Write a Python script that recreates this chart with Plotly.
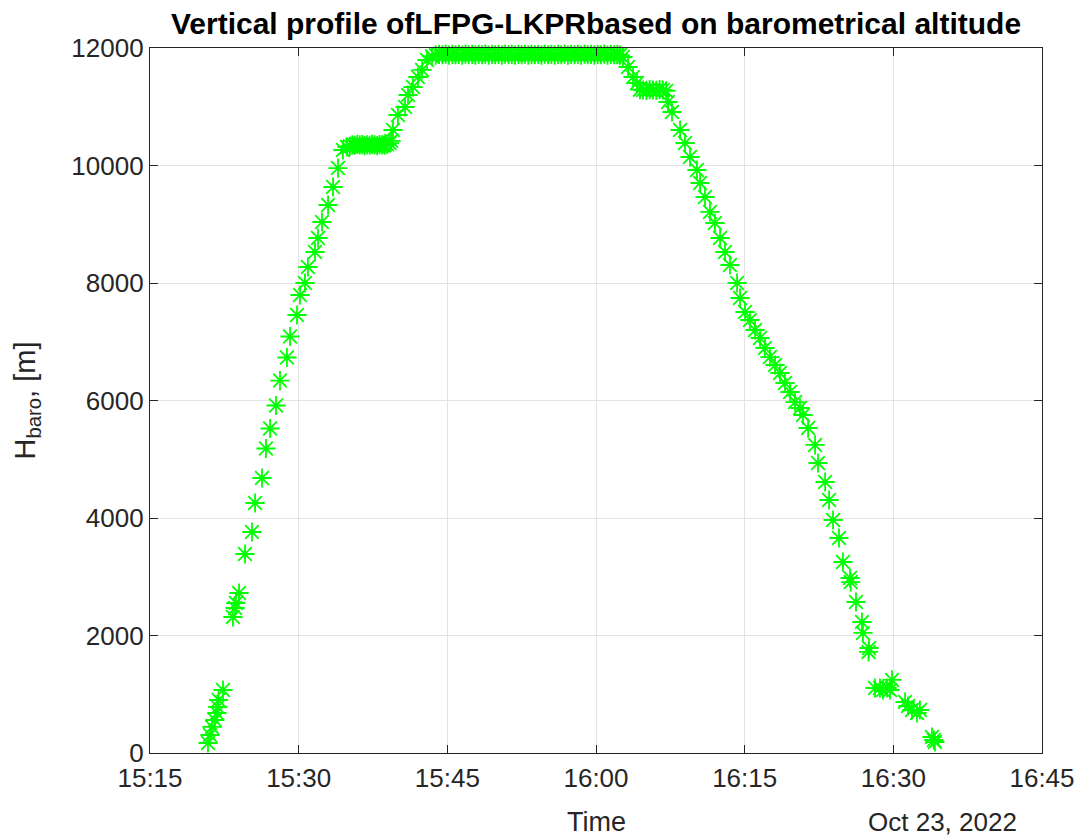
import plotly.graph_objects as go

DATE = "2022-10-23 "

# --- data (time of day, barometric altitude in m) ---
climb_times = ["15:20:51", "15:21:03", "15:21:15", "15:21:33", "15:21:45", "15:21:50", "15:21:55",
               "15:22:22", "15:23:22", "15:23:35", "15:23:40", "15:23:59", "15:24:35", "15:25:17",
               "15:25:36", "15:26:18", "15:26:42", "15:27:07", "15:27:43", "15:28:07", "15:28:49",
               "15:29:08", "15:29:50", "15:30:08", "15:30:38", "15:30:56", "15:31:39", "15:31:57",
               "15:32:21", "15:32:58", "15:33:28", "15:33:58", "15:34:28", "15:34:53"]
climb_alt = [170, 306, 443, 562, 681, 783, 902,
             1072, 2315, 2468, 2553, 2723, 3387, 3762,
             4255, 4681, 5183, 5523, 5915, 6340, 6732,
             7089, 7455, 7796, 8000, 8272, 8528, 8766,
             9038, 9328, 9634, 9957, 10264, 10315]

level1_times = ["15:35:10", "15:35:25", "15:35:40", "15:35:55", "15:36:10", "15:36:25", "15:36:40",
                "15:36:55", "15:37:10", "15:37:25", "15:37:40", "15:37:55", "15:38:10", "15:38:25",
                "15:38:40", "15:38:55", "15:39:10", "15:39:20"]
level1_alt = [10330, 10350, 10345, 10360, 10350, 10355, 10340,
              10350, 10345, 10360, 10350, 10340, 10355, 10350,
              10345, 10360, 10380, 10420]

climb2_times = ["15:39:31", "15:40:01", "15:40:44", "15:41:02", "15:41:32", "15:42:02", "15:42:27",
                "15:42:57", "15:43:27"]
climb2_alt = [10604, 10860, 10996, 11200, 11336, 11506, 11626, 11796, 11860]

cruise_times = ["15:43:50", "15:44:10", "15:44:30", "15:44:50", "15:45:10", "15:45:30", "15:45:50",
                "15:46:10", "15:46:30", "15:46:50", "15:47:10", "15:47:30", "15:47:50", "15:48:10",
                "15:48:30", "15:48:50", "15:49:10", "15:49:30", "15:49:50", "15:50:10", "15:50:30",
                "15:50:50", "15:51:10", "15:51:30", "15:51:50", "15:52:10", "15:52:30", "15:52:50",
                "15:53:10", "15:53:30", "15:53:50", "15:54:10", "15:54:30", "15:54:50", "15:55:10",
                "15:55:30", "15:55:50", "15:56:10", "15:56:30", "15:56:50", "15:57:10", "15:57:30",
                "15:57:50", "15:58:10", "15:58:30", "15:58:50", "15:59:10", "15:59:30", "15:59:50",
                "16:00:10", "16:00:30", "16:00:50", "16:01:10", "16:01:30", "16:01:50", "16:02:10",
                "16:02:25"]
cruise_alt = [11880, 11890, 11885, 11895, 11880, 11890, 11885,
              11890, 11880, 11895, 11885, 11890, 11880, 11890,
              11885, 11895, 11880, 11890, 11885, 11890, 11880,
              11895, 11885, 11890, 11880, 11890, 11885, 11895,
              11880, 11890, 11885, 11890, 11880, 11895, 11885,
              11890, 11880, 11890, 11885, 11895, 11880, 11890,
              11885, 11890, 11880, 11895, 11885, 11890, 11880,
              11890, 11885, 11895, 11880, 11890, 11885, 11890,
              11880]

descent1_times = ["16:02:43", "16:03:14", "16:03:44", "16:04:08"]
descent1_alt = [11847, 11677, 11506, 11404]

level2_times = ["16:04:26", "16:04:45", "16:05:05", "16:05:25", "16:05:45", "16:06:05", "16:06:25",
                "16:06:45", "16:07:05"]
level2_alt = [11290, 11285, 11280, 11290, 11285, 11280, 11290, 11285, 11270]

descent_times = ["16:07:16", "16:07:40", "16:08:29", "16:08:59", "16:09:29", "16:10:11", "16:10:30",
                 "16:11:00", "16:11:30", "16:12:00", "16:12:31", "16:13:01", "16:13:31", "16:14:14",
                 "16:14:32", "16:15:02", "16:15:32", "16:16:03", "16:16:33", "16:17:03", "16:17:33",
                 "16:18:04", "16:18:34", "16:19:04", "16:19:35", "16:20:05", "16:20:35", "16:20:53",
                 "16:21:24", "16:22:06", "16:22:24", "16:23:07", "16:23:31", "16:23:55", "16:24:31",
                 "16:24:55", "16:25:38", "16:25:42", "16:26:14", "16:26:50", "16:26:56", "16:27:33",
                 "16:27:30", "16:28:09", "16:28:39", "16:28:57", "16:29:22", "16:29:40", "16:29:52",
                 "16:31:11", "16:31:29", "16:31:53", "16:32:23", "16:32:41", "16:33:54", "16:34:05",
                 "16:34:12"]
descent_alt = [11081, 10911, 10604, 10383, 10145, 9923, 9702,
               9464, 9209, 9021, 8766, 8528, 8306, 8000,
               7745, 7506, 7370, 7200, 7064, 6894, 6740,
               6604, 6468, 6298, 6145, 5974, 5872, 5753,
               5532, 5243, 4936, 4613, 4306, 3966, 3660,
               3251, 2979, 2910, 2570, 2230, 2043, 1787,
               1720, 1106, 1106, 1072, 1106, 1072, 1243,
               868, 800, 732, 681, 732, 272, 221,
               187]

x_ticks = ["15:15", "15:30", "15:45", "16:00", "16:15", "16:30", "16:45"]
y_ticks = [0, 2000, 4000, 6000, 8000, 10000, 12000]

all_times = (climb_times + level1_times + climb2_times + cruise_times +
             descent1_times + level2_times + descent_times)
all_alt = (climb_alt + level1_alt + climb2_alt + cruise_alt +
           descent1_alt + level2_alt + descent_alt)

FONT = "Liberation Sans, Arial, sans-serif"
AX = "#262626"
L, R, T, B = 150, 40, 48, 83
W, H = 1082, 836
plot_w = W - L - R

fig = go.Figure()
fig.add_trace(go.Scatter(
    x=[DATE + t for t in all_times], y=all_alt, mode="markers",
    marker=dict(symbol="asterisk-open", size=16, color="#00ff00",
                line=dict(color="#00ff00", width=1.8)),
    cliponaxis=False, showlegend=False, hoverinfo="x+y"))

axis_common = dict(showgrid=True, gridcolor="#e3e3e3", gridwidth=1,
                   showline=True, linecolor=AX, linewidth=1.3, mirror="allticks",
                   ticks="inside", ticklen=8, tickcolor=AX, tickwidth=1.3,
                   zeroline=False, automargin=False,
                   tickfont=dict(family=FONT, size=26, color=AX))

fig.update_layout(
    width=W, height=H,
    margin=dict(l=L, r=R, t=T, b=B),
    paper_bgcolor="white", plot_bgcolor="white",
    font=dict(family=FONT, size=26, color=AX),
    title=dict(text="<b>Vertical profile ofLFPG-LKPRbased on barometrical altitude</b>",
               x=0.5, xref="paper", xanchor="center",
               y=1 - 23 / H, yref="container", yanchor="middle",
               font=dict(family=FONT, size=30, color="black")),
    xaxis=dict(type="date",
               range=[DATE + x_ticks[0], DATE + x_ticks[-1]],
               tickvals=[DATE + t for t in x_ticks], ticktext=x_ticks,
               ticklabelstandoff=2,
               **axis_common),
    yaxis=dict(range=[0, 12000], tickvals=y_ticks, ticktext=[str(v) for v in y_ticks],
               **axis_common),
    annotations=[
        dict(text="Time", x=0.5, xref="paper", xanchor="center",
             y=0, yref="paper", yanchor="middle", yshift=-(822 - (H - B)),
             showarrow=False, font=dict(family=FONT, size=27, color=AX)),
        dict(text="Oct 23, 2022", x=(942 - L) / plot_w, xref="paper", xanchor="center",
             y=0, yref="paper", yanchor="middle", yshift=-(822 - (H - B)),
             showarrow=False, font=dict(family=FONT, size=26, color=AX)),
        dict(text="H<sub>baro</sub>, [m]", x=0, xref="paper", xanchor="center",
             xshift=-(L - 26), y=0.5, yref="paper", yanchor="middle",
             textangle=-90, showarrow=False, font=dict(family=FONT, size=29, color=AX)),
    ],
)

fig.write_html("out.html")
